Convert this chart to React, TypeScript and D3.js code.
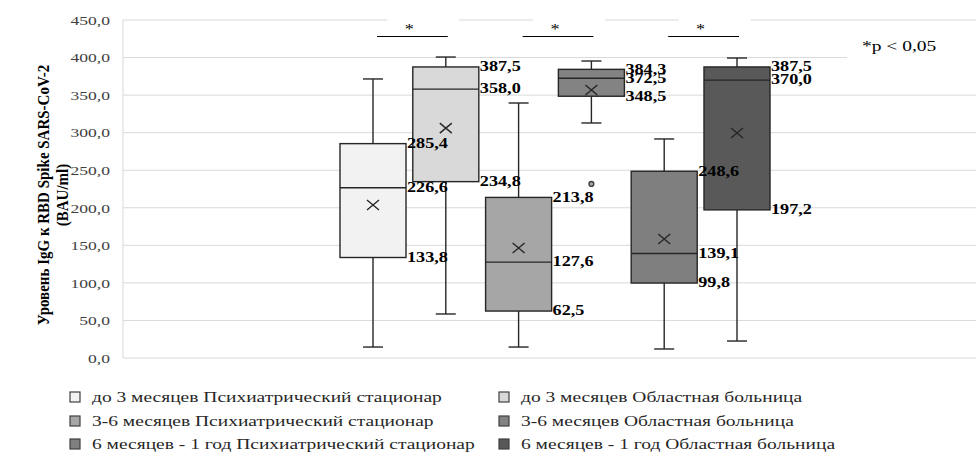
import React from "react"
import * as d3 from "d3"

// box plot of IgG to RBD Spike SARS-CoV-2, by period and hospital

const seriesNames = [
  "до 3 месяцев Психиатрический стационар",
  "до 3 месяцев Областная больница",
  "3-6 месяцев Психиатрический стационар",
  "3-6 месяцев Областная больница",
  "6 месяцев - 1 год Психиатрический стационар",
  "6 месяцев - 1 год Областная больница",
]
const seriesColors = ["#F2F2F2", "#D9D9D9", "#A6A6A6", "#838383", "#7F7F7F", "#595959"]

const whiskerLow = [14.6, 58.6, 14.6, 312.9, 12.0, 22.6]
const q1 = [133.8, 234.8, 62.5, 348.5, 99.8, 197.2]
const median = [226.6, 358.0, 127.6, 372.5, 139.1, 370.0]
const q3 = [285.4, 387.5, 213.8, 384.3, 248.6, 387.5]
const whiskerHigh = [371.5, 400.7, 339.5, 395.4, 291.6, 399.4]
const means = [203.7, 306.0, 146.5, 356.8, 158.4, 299.6]
const outlierSeries = [3]
const outlierValues = [231.7]

const yTicks = [0, 50, 100, 150, 200, 250, 300, 350, 400, 450]
const pairs = [[0, 1], [2, 3], [4, 5]]
const bracketLevel = 428

const W = 976
const H = 455
const SX = 1.3 // the source picture is stretched sideways
const serif = "'Liberation Serif', 'Times New Roman', serif"

const fmt = (v: number) => d3.format(".1f")(v).replace(".", ",")

function SText({ x, y, size, bold, anchor, fill, children }: any) {
  return (
    <text
      transform={`translate(${x},${y}) scale(${SX},1)`}
      fontFamily={serif}
      fontSize={size}
      fontWeight={bold ? "bold" : "normal"}
      textAnchor={anchor || "start"}
      dominantBaseline="central"
      fill={fill || "#000"}
    >
      {children}
    </text>
  )
}

export default function App() {
  const y = d3.scaleLinear().domain([0, 450]).range([358, 20])
  const x = d3
    .scaleBand<number>()
    .domain(d3.range(seriesNames.length))
    .range([336.6, 773.4])
    .paddingInner(0.093)
    .paddingOuter(0.0465)
  const bw = x.bandwidth()
  const cx = (i: number) => (x(i) as number) + bw / 2
  const plotLeft = 123

  const legendRows = [397, 421, 444]
  const legendCols = [70, 499]
  const labelMid = (y(0) + y(450)) / 2 + 6

  return (
    <svg
      width={W}
      height={H}
      style={{ position: "absolute", left: 0, top: 0, background: "#fff" }}
    >
      {/* gridlines */}
      {yTicks.map(t => (
        <line key={t} x1={plotLeft} x2={W} y1={y(t)} y2={y(t)} stroke="#D9D9D9" strokeWidth={1} />
      ))}
      <line x1={plotLeft} x2={plotLeft} y1={y(450)} y2={y(0)} stroke="#D9D9D9" />

      {/* y axis labels */}
      {yTicks.map(t => (
        <SText key={t} x={110} y={y(t)} size={13.5} anchor="end" fill="#404040">
          {fmt(t)}
        </SText>
      ))}
      <text
        transform={`translate(43,${labelMid}) scale(1.15,1) rotate(-90)`}
        fontFamily={serif} fontSize={15} fontWeight="bold" textAnchor="middle" dominantBaseline="central"
      >
        Уровень IgG к RBD Spike SARS-CoV-2
      </text>
      <text
        transform={`translate(62,${labelMid}) scale(1.15,1) rotate(-90)`}
        fontFamily={serif} fontSize={15} fontWeight="bold" textAnchor="middle" dominantBaseline="central"
      >
        (BAU/ml)
      </text>

      {/* significance marks */}
      {pairs.map(([a, b], k) => {
        const mid = (cx(a) + cx(b)) / 2
        return (
          <g key={k}>
            <rect x={mid - 22} y={10} width={72} height={20} fill="#fff" />
            <line x1={cx(a) + 4} x2={cx(b) + 2} y1={y(bracketLevel)} y2={y(bracketLevel)} stroke="#000" strokeWidth={1} />
            <SText x={mid} y={y(bracketLevel) - 7} size={14} anchor="middle">*</SText>
          </g>
        )
      })}
      <rect x={847} y={32} width={W - 847} height={40} fill="#fff" />
      <SText x={862} y={46} size={15}>*p &lt; 0,05</SText>

      {/* boxes */}
      {seriesNames.map((_, i) => {
        const c = cx(i)
        const x0 = x(i) as number
        const cap = 10
        const m = y(means[i])
        return (
          <g key={i} stroke="#262626" strokeWidth={1.4}>
            <line x1={c} x2={c} y1={y(whiskerHigh[i])} y2={y(q3[i])} />
            <line x1={c} x2={c} y1={y(q1[i])} y2={y(whiskerLow[i])} />
            <line x1={c - cap} x2={c + cap} y1={y(whiskerHigh[i])} y2={y(whiskerHigh[i])} />
            <line x1={c - cap} x2={c + cap} y1={y(whiskerLow[i])} y2={y(whiskerLow[i])} />
            <rect x={x0} y={y(q3[i])} width={bw} height={y(q1[i]) - y(q3[i])} fill={seriesColors[i]} />
            <line x1={x0} x2={x0 + bw} y1={y(median[i])} y2={y(median[i])} />
            <path d={`M${c - 6},${m - 5}L${c + 6},${m + 5}M${c - 6},${m + 5}L${c + 6},${m - 5}`} fill="none" />
          </g>
        )
      })}
      {outlierSeries.map((s, k) => (
        <circle key={k} cx={cx(s)} cy={y(outlierValues[k])} r={2.4} fill="#A6A6A6" stroke="#404040" strokeWidth={1.4} />
      ))}

      {/* data labels */}
      {seriesNames.map((_, i) => {
        const xr = (x(i) as number) + bw + 1
        return (
          <g key={i}>
            {[q3[i], median[i], q1[i]].map((v, j) => (
              <SText key={j} x={xr} y={y(v)} size={14} bold>
                {fmt(v)}
              </SText>
            ))}
          </g>
        )
      })}

      {/* legend */}
      {seriesNames.map((name, i) => {
        const lx = legendCols[i % 2]
        const ly = legendRows[Math.floor(i / 2)]
        return (
          <g key={i}>
            <rect x={lx} y={ly - 5} width={10} height={10} fill={seriesColors[i]} stroke="#404040" strokeWidth={1.2} />
            <SText x={lx + 22} y={ly} size={15} fill="#262626">{name}</SText>
          </g>
        )
      })}
    </svg>
  )
}
